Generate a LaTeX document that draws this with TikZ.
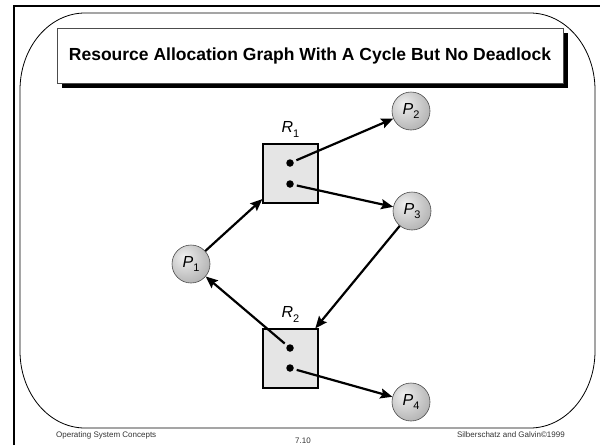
\documentclass[tikz,border=0pt]{standalone}
\usepackage{fontspec}
\setmainfont{Liberation Sans}
\usetikzlibrary{positioning, arrows.meta, shadows}
\pgfdeclareradialshading{procball}{\pgfpoint{-10bp}{10bp}}{color(0bp)=(black!6); color(22bp)=(black!22); color(62bp)=(black!50); color(80bp)=(black!55)}
\newcommand{\tbf}[1]{\textbf{#1}}
\newcommand{\tit}[1]{\textit{#1}}
\newcommand{\idx}[2]{\tit{#1}\raisebox{-0.55ex}{\fontsize{11}{11}\selectfont #2}}

\begin{document}
\begin{tikzpicture}[
		x=1pt, y=-1pt,
		>={Stealth[length=12pt, width=10pt, inset=2pt]},
		proc/.style={circle, draw=black!70, line width=0.6pt, minimum size=38pt, inner sep=0pt, shade, shading=procball, font=\fontsize{16}{16}\selectfont},
		res/.style={draw, line width=1.3pt, fill=black!10, minimum width=55pt, minimum height=59pt, inner sep=0pt},
		inst/.style={circle, fill=black, minimum size=7.5pt, inner sep=0pt},
		reslabel/.style={inner sep=0pt, font=\fontsize{16}{16}\selectfont},
		edge/.style={->, line width=2.2pt},
		footer/.style={inner sep=0pt, font=\fontsize{8}{8}\selectfont, text=black!80},
	]
	\useasboundingbox (0,0) rectangle (600,445);

	% slide frame
	\draw[line width=2.5pt] (14,445) -- (14,6) -- (600,6);
	\draw[line width=0.8pt] (85,13) -- (530,13) .. controls (566,13) and (595,47.5) .. (595,90) -- (595,351)
		.. controls (595,393.5) and (566,428) .. (530,428) -- (85,428)
		.. controls (49,428) and (20,393.5) .. (20,351) -- (20,90)
		.. controls (20,47.5) and (49,13) .. (85,13) -- cycle;

	\node[draw=black!70, line width=0.6pt, fill=white, minimum width=506pt, minimum height=55pt,
		drop shadow={shadow xshift=5pt, shadow yshift=-5pt, fill=black, opacity=1},
		font=\fontsize{17.5}{18}\selectfont] (title) at (310,55.5) {\tbf{Resource Allocation Graph With A Cycle But No Deadlock}};

	% resources
	\node[res] (res1) at (290.5,173.5) {};
	\node[res] (res2) at (290.5,358.5) {};
	\node[reslabel, above=6pt of res1] (res1lbl) {\idx{R}{1}};
	\node[reslabel, above=6pt of res2] (res2lbl) {\idx{R}{2}};
	\node[inst] (res1a) at (290,163) {};
	\node[inst] (res1b) at (290,184) {};
	\node[inst] (res2a) at (290,348) {};
	\node[inst] (res2b) at (290,368) {};

	% processes
	\node[proc] (proc1) at (191,264) {\idx{P}{1}};
	\node[proc] (proc2) at (411,111) {\idx{P}{2}};
	\node[proc] (proc3) at (412,211) {\idx{P}{3}};
	\node[proc] (proc4) at (411,402) {\idx{P}{4}};

	\draw[edge] (proc1) -- (res1);
	\draw[edge, shorten <=3pt] (res1a) -- (proc2);
	\draw[edge, shorten <=3pt] (res1b) -- (proc3);
	\draw[edge] (proc3) -- (res2);
	\draw[edge, shorten <=3pt] (res2a) -- (proc1);
	\draw[edge, shorten <=3pt] (res2b) -- (proc4);

	\node[footer, anchor=west] (course) at (56,435) {Operating System Concepts};
	\node[footer] (page) at (303,441) {7.10};
	\node[footer, anchor=east] (credit) at (565,435) {Silberschatz and Galvin\textcopyright 1999};
\end{tikzpicture}
\end{document}
